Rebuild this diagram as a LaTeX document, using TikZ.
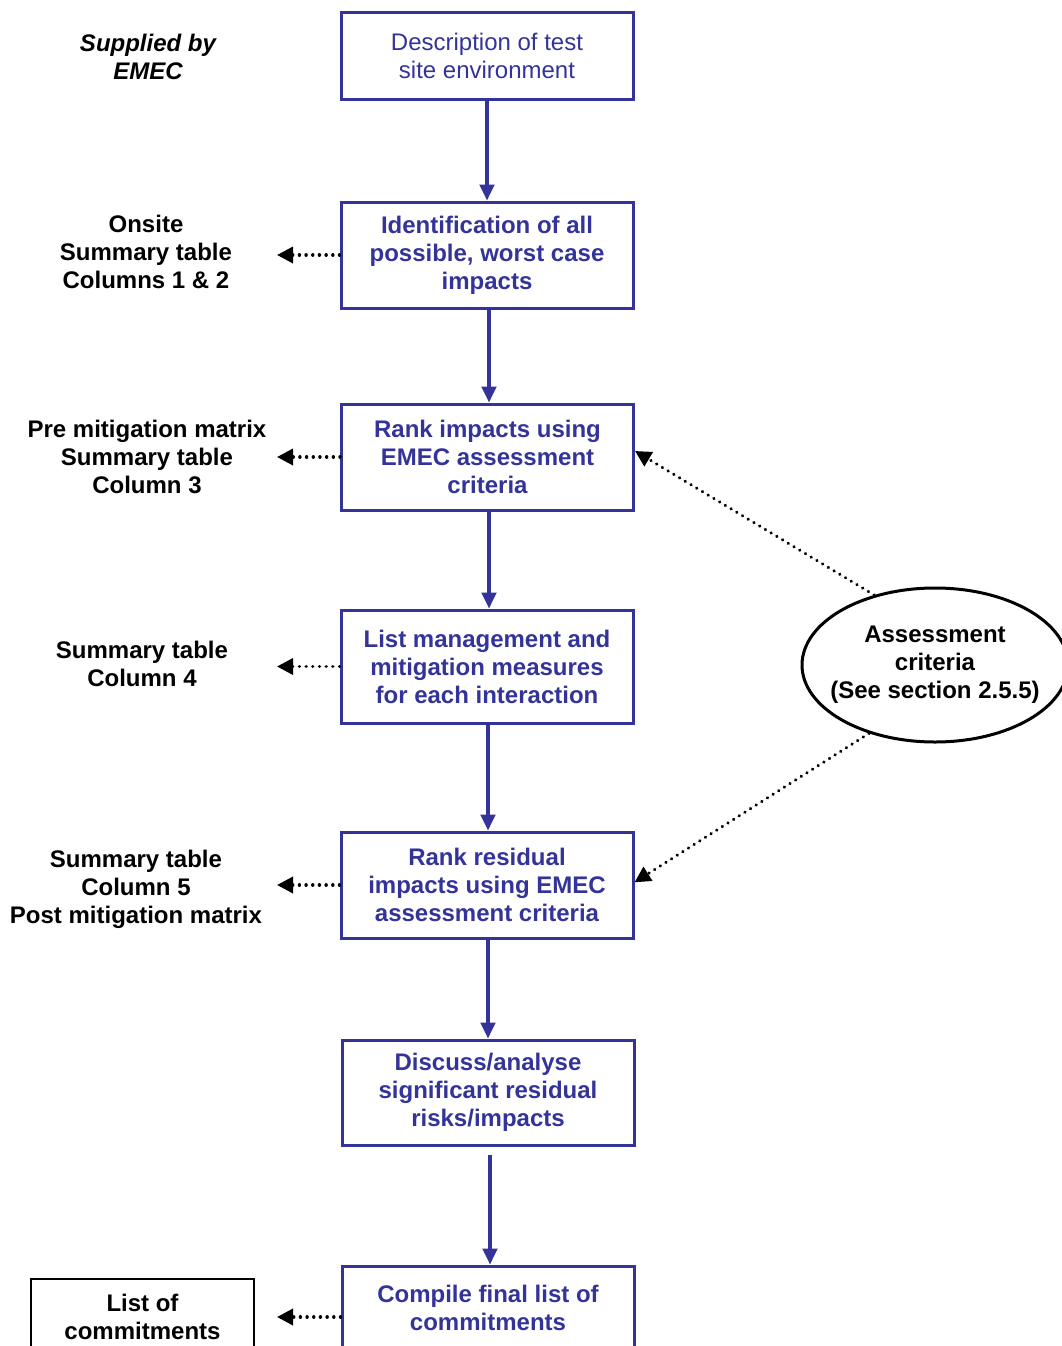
\documentclass[tikz,border=0pt]{standalone}
\usepackage{fontspec}
\setmainfont{Liberation Sans}
\usepackage{xcolor}
\usetikzlibrary{arrows.meta,shapes.geometric}
\definecolor{emecblue}{RGB}{51,51,153}

\begin{document}
\begin{tikzpicture}[x=0.75pt,y=0.75pt,yscale=-1,xscale=1,
  font=\fontsize{18}{21}\selectfont\bfseries,
  stepbox/.style={draw=emecblue,line width=2.25pt,text=emecblue,align=center,
    minimum width=219pt,inner sep=0pt},
  sidelabel/.style={align=center,inner sep=0pt},
  flow/.style={draw=emecblue,line width=2.4pt,-{Triangle[length=12pt,width=11pt]}},
  feed/.style={line width=2.6pt,line cap=round,dash pattern=on 0.01pt off 5pt,
    -{Triangle[length=12pt,width=12pt,line cap=butt,line join=miter,sep=0pt]}}]
\useasboundingbox (0,0) rectangle (1061,1346);
% Steps
\node[stepbox,minimum height=65.25pt,font=\fontsize{18}{21}\selectfont] (desc) at (487,55.5) {Description of test\\site environment};
\node[stepbox,minimum height=79.5pt] (ident) at (487,255) {Identification of all\\possible, worst case\\impacts};
\node[stepbox,minimum height=79.5pt] (rank) at (487.5,457) {Rank impacts using\\EMEC assessment\\criteria};
\node[stepbox,minimum height=84.75pt] (manage) at (487,666.5) {List management and\\mitigation measures\\for each interaction};
\node[stepbox,minimum height=79.5pt] (resid) at (487,885) {Rank residual\\impacts using EMEC\\assessment criteria};
\node[stepbox,minimum height=78.75pt] (discuss) at (488,1092.5) {Discuss/analyse\\significant residual\\risks/impacts};
\node[stepbox,minimum height=63pt] (compile) at (488,1308) {Compile final list of\\commitments};
% Outputs
\node[sidelabel,font=\fontsize{18}{21}\selectfont\bfseries\itshape] (supplied) at (148,57) {Supplied by\\EMEC};
\node[sidelabel] (onsite) at (146,252) {Onsite\\Summary table\\Columns 1 \& 2};
\node[sidelabel] (premit) at (147,457) {Pre mitigation matrix\\Summary table\\Column 3};
\node[sidelabel] (col4) at (142,664) {Summary table\\Column 4};
\node[sidelabel] (postmit) at (136,889) {Summary table\\Column 5\\Post mitigation matrix};
\node[draw,line width=1.5pt,align=center,minimum width=167.25pt,minimum height=57pt,inner sep=0pt] (commit) at (142.5,1317) {List of\\commitments};
% Criteria
\node[draw,ellipse,line width=2.25pt,align=center,minimum width=199.5pt,minimum height=115.5pt,inner xsep=-10pt,inner ysep=0pt] (assess) at (935,665) {Assessment\\criteria\\(See section 2.5.5)};
\coordinate (tipx) at (277,0);
% Flow
\draw[flow] (desc) -- (ident);
\draw[flow] (ident.south -| 489,0) -- (rank.north -| 489,0);
\draw[flow] (rank.south -| 489,0) -- (manage.north -| 489,0);
\draw[flow] (manage.south -| 488,0) -- (resid.north -| 488,0);
\draw[flow] (resid.south -| 488,0) -- (discuss.north -| 488,0);
\draw[flow,shorten <=6pt] (discuss.south -| 490,0) -- (compile.north -| 490,0);
% Outputs to the left
\draw[feed] (ident.west) -- (ident.west -| tipx);
\draw[feed] (rank.west) -- (rank.west -| tipx);
\draw[feed] (manage.west) -- (manage.west -| tipx);
\draw[feed] (resid.west) -- (resid.west -| tipx);
\draw[feed] ([yshift=6.75pt]compile.west) -- ([yshift=6.75pt]compile.west -| tipx);
% Criteria links
\draw[feed] (assess.131) -- ([yshift=-4.5pt]rank.east);
\draw[feed] (assess.226) -- ([yshift=-2pt]resid.east);
\end{tikzpicture}
\end{document}
